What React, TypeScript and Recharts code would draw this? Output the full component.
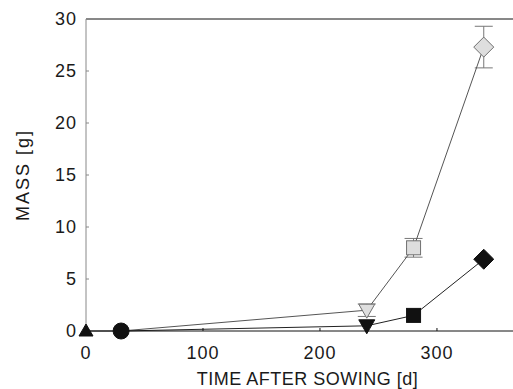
import React from 'react';
import { LineChart, Line, XAxis, YAxis, ErrorBar, ReferenceLine } from 'recharts';

const blackX = [0, 30, 240, 280, 340];
const blackY = [0, 0, 0.5, 1.5, 6.9];
const blackMarkers = ['triUp', 'circle', 'triDown', 'square', 'diamond'];

const grayX = [30, 240, 280, 340];
const grayY = [0, 2, 8.0, 27.3];
const grayErr = [0, 0.6, 0.9, 2.0];
const grayMarkers = ['none', 'triDown', 'square', 'diamond'];

const xTicks = [0, 100, 200, 300];
const yTicks = [0, 5, 10, 15, 20, 25, 30];

const blackData = blackX.map((x, i) => ({ x, y: blackY[i] }));
const grayData = grayX.map((x, i) => ({ x, y: grayY[i], err: grayErr[i] }));

function marker(kind: string, cx: number, cy: number, fill: string, stroke: string, key: any) {
  switch (kind) {
    case 'triUp':
      return <polygon key={key} points={`${cx - 7},${cy + 5} ${cx + 7},${cy + 5} ${cx},${cy - 7}`} fill={fill} stroke={stroke} />;
    case 'triDown':
      return <polygon key={key} points={`${cx - 8},${cy - 6} ${cx + 8},${cy - 6} ${cx},${cy + 8}`} fill={fill} stroke={stroke} />;
    case 'circle':
      return <circle key={key} cx={cx} cy={cy} r={8} fill={fill} stroke={stroke} />;
    case 'square':
      return <rect key={key} x={cx - 7} y={cy - 7} width={14} height={14} fill={fill} stroke={stroke} />;
    case 'diamond':
      return <polygon key={key} points={`${cx},${cy - 10} ${cx + 10},${cy} ${cx},${cy + 10} ${cx - 10},${cy}`} fill={fill} stroke={stroke} />;
    default:
      return <g key={key} />;
  }
}

const blackDot = (p: any) => marker(blackMarkers[p.index], p.cx, p.cy, '#111', '#111', `b${p.index}`);
const grayDot = (p: any) => marker(grayMarkers[p.index], p.cx, p.cy, '#dedede', '#707070', `g${p.index}`);

const font = 'Liberation Sans, Arial, sans-serif';

export default function App() {
  return (
    <div style={{ position: 'absolute', left: 0, top: 0, background: '#fff' }}>
      <LineChart width={513} height={389} margin={{ top: 19, right: 0, bottom: 0, left: 0 }}>
        <XAxis
          type="number"
          dataKey="x"
          domain={[0, 365]}
          ticks={xTicks}
          height={58}
          tickSize={-3}
          tickMargin={18}
          stroke="#111"
          tick={{ fill: '#1a1a1a', fontSize: 18, fontFamily: font, letterSpacing: 1 }}
          label={{ value: 'TIME AFTER SOWING [d]', position: 'insideBottom', offset: 4, dx: 8, fill: '#1a1a1a', fontSize: 18, fontFamily: font, letterSpacing: 0.5 }}
        />
        <YAxis
          type="number"
          dataKey="y"
          domain={[0, 30]}
          ticks={yTicks}
          width={86}
          tickSize={-3}
          tickMargin={12}
          stroke="#888"
          tick={{ fill: '#1a1a1a', fontSize: 18, fontFamily: font, letterSpacing: 1 }}
          label={{ value: 'MASS [g]', angle: -90, position: 'insideLeft', offset: 23, fill: '#1a1a1a', fontSize: 18, fontFamily: font, letterSpacing: 2, style: { textAnchor: 'middle' } }}
        />
        <ReferenceLine y={30} stroke="#111" />
        <Line data={grayData} dataKey="y" stroke="#555" strokeWidth={1} dot={grayDot} activeDot={false} isAnimationActive={false}>
          <ErrorBar dataKey="err" width={9} stroke="#777" strokeWidth={1} direction="y" />
        </Line>
        <Line data={blackData} dataKey="y" stroke="#222" strokeWidth={1} dot={blackDot} activeDot={false} isAnimationActive={false} />
      </LineChart>
    </div>
  );
}
